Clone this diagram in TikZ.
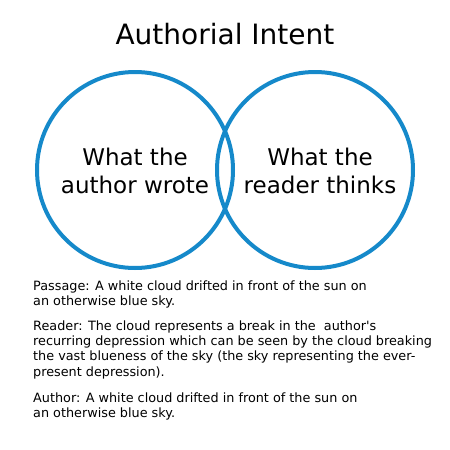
\documentclass[tikz,border=0pt]{standalone}
\usepackage{fontspec}
\setmainfont{DejaVu Sans}
\usetikzlibrary{positioning}
\definecolor{vennblue}{HTML}{1589CA}

\begin{document}
\begin{tikzpicture}[x=1pt, y=-1pt,
    venn/.style={draw=vennblue, line width=4pt, circle, minimum size=196pt, inner sep=0pt},
    venntext/.style={align=center, inner sep=0pt, font=\fontsize{23}{28}\selectfont},
    note/.style={align=left, anchor=base west, inner sep=0pt, font=\fontsize{12.8}{15.3}\selectfont},
]
    \fill[white] (0,0) rectangle (450,450);
    \useasboundingbox (0,0) rectangle (450,450);

    \node[anchor=base, font=\fontsize{28}{32}\selectfont] (title) at (225, 44) {Authorial Intent};

    \node[venn] (wrote) at (135, 170) {};
    \node[venn] (thinks) at (315, 170) {};
    \node[venntext] (wrotetext) at (135, 171) {What the\\author wrote};
    \node[venntext] (thinkstext) at (320, 171) {What the\\reader thinks};

    % last line baselines
    \node[note] (passage) at (33, 305.7) {Passage: A white cloud drifted in front of the sun on\\an otherwise blue sky.};
    \node[note] (reader) at (33, 376) {Reader: The cloud represents a break in the \ author\textquotesingle s\\recurring depression which can be seen by the cloud breaking\\the vast blueness of the sky (the sky representing the ever-\\present depression).};
    \node[note] (author) at (33, 417.7) {Author: A white cloud drifted in front of the sun on\\an otherwise blue sky.};
\end{tikzpicture}
\end{document}
